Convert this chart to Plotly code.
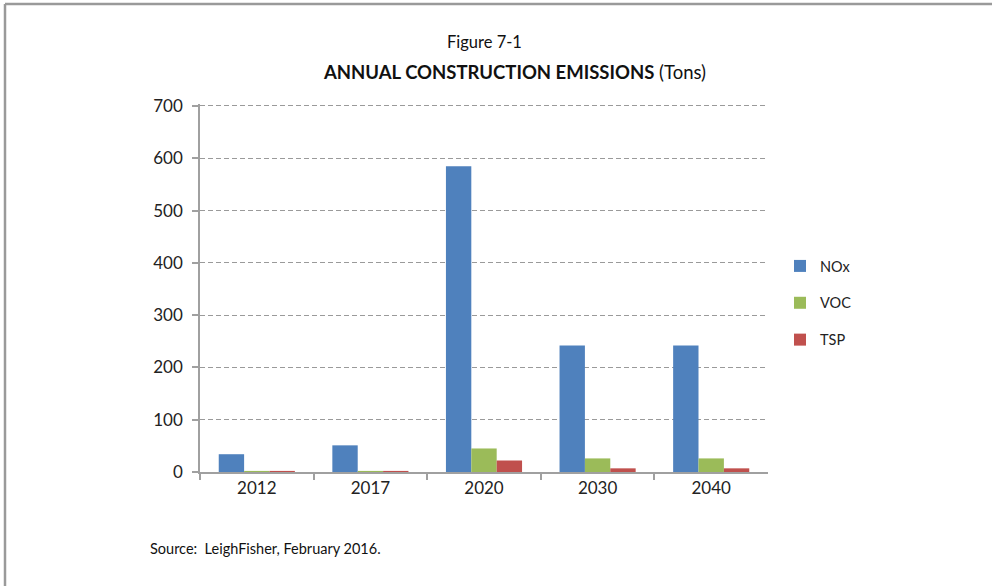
import plotly.graph_objects as go

# Construction years and annual emissions (tons)
years = ["2012", "2017", "2020", "2030", "2040"]
nox = [34, 51, 585, 242, 242]
voc = [2, 2, 45, 26, 26]
tsp = [0.5, 1, 22, 7, 7]

series_names = ["NOx", "VOC", "TSP"]
series_colors = ["#4F81BD", "#9BBB59", "#C0504D"]

W, H = 992, 586
FONT = "Lato"

fig = go.Figure()
for name, vals, col in zip(series_names, [nox, voc, tsp], series_colors):
    fig.add_trace(go.Bar(
        x=years, y=vals, name=name, legendgroup=name,
        marker=dict(color=col, line=dict(width=0)),
    ))

# plot-area placement in pixels; the value range runs slightly past 700
# so the top dashed gridline is still drawn inside the plot area
y_max = 704
x0, x1 = 200, 768
y_bot = 472
px_per_unit = (472 - 106) / 700
y_top = y_bot - y_max * px_per_unit

fig.update_layout(
    template="none",
    width=W, height=H,
    margin=dict(l=0, r=0, t=0, b=0, pad=0, autoexpand=False),
    paper_bgcolor="white", plot_bgcolor="white",
    font=dict(family=FONT, size=15, color="#222222"),
    barmode="group", bargap=0.33, bargroupgap=0,
    showlegend=True,
    legend=dict(
        x=780 / W, y=(H - 303) / H, xanchor="left", yanchor="middle",
        font=dict(family=FONT, size=14.5, color="#222222"),
        traceorder="grouped", tracegroupgap=15,
        itemwidth=30, bgcolor="rgba(0,0,0,0)",
    ),
    xaxis=dict(
        domain=[x0 / W, x1 / W],
        type="category", automargin=False,
        showline=True, linecolor="#a0a0a0", linewidth=1.5,
        ticks="outside", tickson="boundaries", ticklen=6,
        tickcolor="#a0a0a0", tickwidth=1.5,
        showgrid=False, zeroline=False,
        tickfont=dict(family=FONT, size=17, color="#222222"),
    ),
    yaxis=dict(
        domain=[(H - y_bot) / H, (H - y_top) / H],
        range=[0, y_max], tick0=0, dtick=100, automargin=False,
        showline=True, linecolor="#a0a0a0", linewidth=1.5,
        ticks="outside", ticklen=6, tickcolor="#a0a0a0", tickwidth=1.5,
        showgrid=True, gridcolor="#9a9a9a", gridwidth=1.2, griddash="5px,3px",
        zeroline=False,
        tickfont=dict(family=FONT, size=17, color="#222222"),
        ticklabelstandoff=6,
    ),
)

# Title lines
fig.add_annotation(
    x=484 / W, y=(H - 42) / H, xref="paper", yref="paper",
    text="Figure 7-1", showarrow=False,
    font=dict(family=FONT, size=16.5, color="#111111"),
    xanchor="center", yanchor="middle",
)
fig.add_annotation(
    x=514 / W, y=(H - 72) / H, xref="paper", yref="paper",
    text="<b>ANNUAL CONSTRUCTION EMISSIONS</b> (Tons)", showarrow=False,
    font=dict(family=FONT, size=18.5, color="#111111"),
    xanchor="center", yanchor="middle",
)

# Source note
fig.add_annotation(
    x=148 / W, y=(H - 548) / H, xref="paper", yref="paper",
    text="Source:  LeighFisher, February 2016.", showarrow=False,
    font=dict(family=FONT, size=14.5, color="#111111"),
    xanchor="left", yanchor="middle",
)

# Outer frame (top and left edges)
frame = dict(color="#9a9a9a", width=2.5)
fig.add_shape(type="line", xref="paper", yref="paper",
              x0=5 / W, x1=1, y0=(H - 4) / H, y1=(H - 4) / H, line=frame)
fig.add_shape(type="line", xref="paper", yref="paper",
              x0=5 / W, x1=5 / W, y0=0, y1=(H - 4) / H, line=frame)

fig.write_html("out.html")
